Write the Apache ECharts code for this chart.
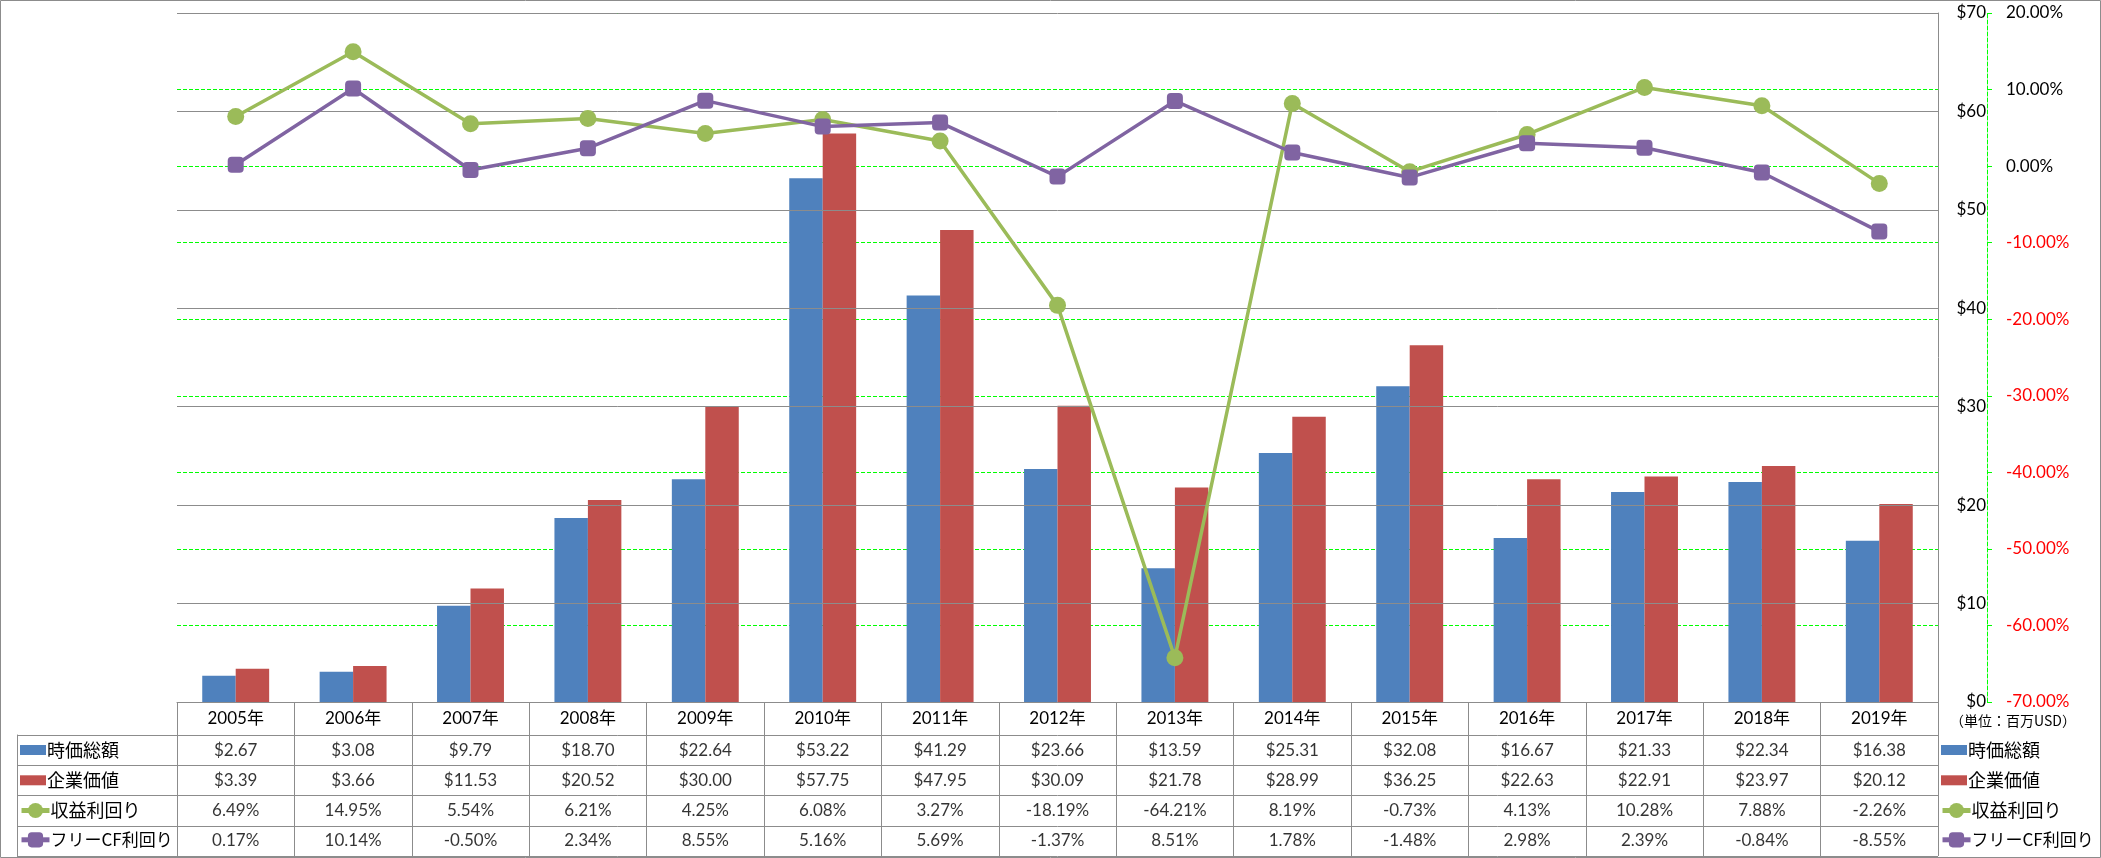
<!DOCTYPE html>
<html>
<head>
<meta charset="utf-8">
<script src="https://cdn.jsdelivr.net/npm/echarts/dist/echarts.min.js"></script>
<style>
html,body{margin:0;padding:0;background:#fff;}
#chart{width:2101px;height:858px;}
</style>
</head>
<body>
<div id="chart"></div>
<script>
const years = ['2005年','2006年','2007年','2008年','2009年','2010年','2011年','2012年','2013年','2014年','2015年','2016年','2017年','2018年','2019年'];
const marketCap = [2.67, 3.08, 9.79, 18.70, 22.64, 53.22, 41.29, 23.66, 13.59, 25.31, 32.08, 16.67, 21.33, 22.34, 16.38];
const enterpriseValue = [3.39, 3.66, 11.53, 20.52, 30.00, 57.75, 47.95, 30.09, 21.78, 28.99, 36.25, 22.63, 22.91, 23.97, 20.12];
const earningsYield = [6.49, 14.95, 5.54, 6.21, 4.25, 6.08, 3.27, -18.19, -64.21, 8.19, -0.73, 4.13, 10.28, 7.88, -2.26];
const fcfYield = [0.17, 10.14, -0.50, 2.34, 8.55, 5.16, 5.69, -1.37, 8.51, 1.78, -1.48, 2.98, 2.39, -0.84, -8.55];
const seriesNames = ['時価総額','企業価値','収益利回り','フリーCF利回り'];
const unitText = '（単位：百万USD）';

const FONT = 'Lato, "Noto Sans CJK JP", sans-serif';
const GRAY = '#8c8c8c';
const GREEN = '#00ff00';
const DASH = [4, 2];

const money = v => '$' + v.toFixed(2);
const pct = v => v.toFixed(2) + '%';

const rows = [
  marketCap.map(money),
  enterpriseValue.map(money),
  earningsYield.map(pct),
  fcfYield.map(pct)
];
const cellData = [];
rows.forEach((r, ri) => r.forEach((t, ci) => cellData.push([ci, ri, t])));

const chart = echarts.init(document.getElementById('chart'));
const legendText = {fontFamily: '"Noto Sans CJK JP", sans-serif', fontSize: 18, color: '#000', lineHeight: 18, padding: [0,0,0,-4]};
function barLegend(left) {
  return {
    orient: 'vertical', left: left, top: 741, padding: 0,
    itemWidth: 26, itemHeight: 10, itemGap: 12.3,
    data: [{name: seriesNames[0], icon: 'rect'}, {name: seriesNames[1], icon: 'rect'}],
    textStyle: legendText, selectedMode: false
  };
}
function lineLegend(left) {
  return {
    orient: 'vertical', left: left, top: 801.5, padding: 0,
    itemWidth: 28, itemHeight: 19, itemGap: 11.3,
    data: [{name: seriesNames[2]}, {name: seriesNames[3], textStyle: {fontSize: 17, lineHeight: 18}}],
    lineStyle: {width: 5},
    textStyle: legendText, selectedMode: false
  };
}

chart.setOption({
  animation: false,
  textStyle: {fontFamily: FONT},
  grid: [
    {left: 177, top: 13, right: 163, bottom: 156, outerBoundsMode: 'none', containLabel: false},
    {left: 177, top: 735, right: 163, height: 121, outerBoundsMode: 'none', containLabel: false}
  ],
  legend: [barLegend(1941), lineLegend(1940), barLegend(20), lineLegend(19)],
  graphic: [
    {type: 'rect', silent: true, shape: {x: 0.5, y: 0.5, width: 2100, height: 857}, style: {fill: 'none', stroke: GRAY, lineWidth: 1}},
    {type: 'text', silent: true, left: 1950, top: 714, style: {text: unitText, fontFamily: '"Noto Sans CJK JP"', fontSize: 14, fill: '#000'}}
  ],
  xAxis: [
    {
      type: 'category', gridIndex: 0, data: years,
      axisLine: {show: true, lineStyle: {color: GRAY, width: 1}},
      axisTick: {show: true, length: 33, lineStyle: {color: GRAY}},
      axisLabel: {fontFamily: FONT, fontSize: 17, color: '#000', margin: 8},
      splitLine: {show: false}
    },
    {
      type: 'category', gridIndex: 1, data: years,
      axisLine: {show: false}, axisTick: {show: false}, axisLabel: {show: false},
      splitLine: {show: true, lineStyle: {color: GRAY, width: 1}}
    }
  ],
  yAxis: [
    {
      type: 'value', gridIndex: 0, position: 'right', min: 0, max: 70, interval: 10, z: 3,
      axisLine: {show: true, lineStyle: {color: GRAY}},
      axisTick: {show: false},
      axisLabel: {fontFamily: FONT, fontSize: 17, color: '#000', margin: 48, align: 'right', formatter: v => '$' + v},
      splitLine: {show: true, lineStyle: {color: GRAY, width: 1}}
    },
    {
      type: 'value', gridIndex: 0, position: 'right', offset: 49, min: -70, max: 20, interval: 10,
      axisLine: {show: true, lineStyle: {color: GREEN, type: DASH, width: 1}},
      axisTick: {show: true, length: 5, lineStyle: {color: GREEN}},
      axisLabel: {fontFamily: FONT, fontSize: 17, color: '#000', margin: 19,
        formatter: v => v < 0 ? '{n|' + v.toFixed(2) + '%}' : v.toFixed(2) + '%',
        rich: {n: {color: '#ff0000', fontFamily: FONT, fontSize: 17}}},
      splitLine: {show: true, lineStyle: {color: GREEN, type: DASH, width: 1}}
    },
    {
      type: 'category', gridIndex: 1, inverse: true, data: seriesNames,
      axisLine: {show: true, lineStyle: {color: GRAY}},
      axisTick: {show: true, length: 160, lineStyle: {color: GRAY}},
      axisLabel: {show: false},
      splitLine: {show: true, lineStyle: {color: GRAY, width: 1}}
    },
    {
      type: 'category', gridIndex: 1, inverse: true, data: seriesNames, position: 'left', offset: 160,
      axisLine: {show: true, lineStyle: {color: GRAY}},
      axisTick: {show: false}, axisLabel: {show: false}, splitLine: {show: false}
    }
  ],
  series: [
    {name: seriesNames[0], type: 'bar', xAxisIndex: 0, yAxisIndex: 0, data: marketCap,
      itemStyle: {color: '#4f81bd'}, barGap: '0%', barCategoryGap: '43%'},
    {name: seriesNames[1], type: 'bar', xAxisIndex: 0, yAxisIndex: 0, data: enterpriseValue,
      itemStyle: {color: '#c0504d'}, barGap: '0%', barCategoryGap: '43%'},
    {name: seriesNames[2], type: 'line', xAxisIndex: 0, yAxisIndex: 1, data: earningsYield,
      symbol: 'circle', symbolSize: 17, z: 5,
      lineStyle: {color: '#9bbb59', width: 3.5}, itemStyle: {color: '#9bbb59'}},
    {name: seriesNames[3], type: 'line', xAxisIndex: 0, yAxisIndex: 1, data: fcfYield,
      symbol: 'roundRect', symbolSize: 16, z: 5,
      lineStyle: {color: '#8064a2', width: 3.5}, itemStyle: {color: '#8064a2'}},
    {name: 'table', type: 'scatter', xAxisIndex: 1, yAxisIndex: 2, data: cellData,
      symbolSize: 1, itemStyle: {color: 'transparent'}, silent: true,
      label: {show: true, position: 'inside', fontFamily: FONT, fontSize: 17, color: '#000',
        formatter: p => p.value[2]}}
  ]
});
</script>
</body>
</html>
